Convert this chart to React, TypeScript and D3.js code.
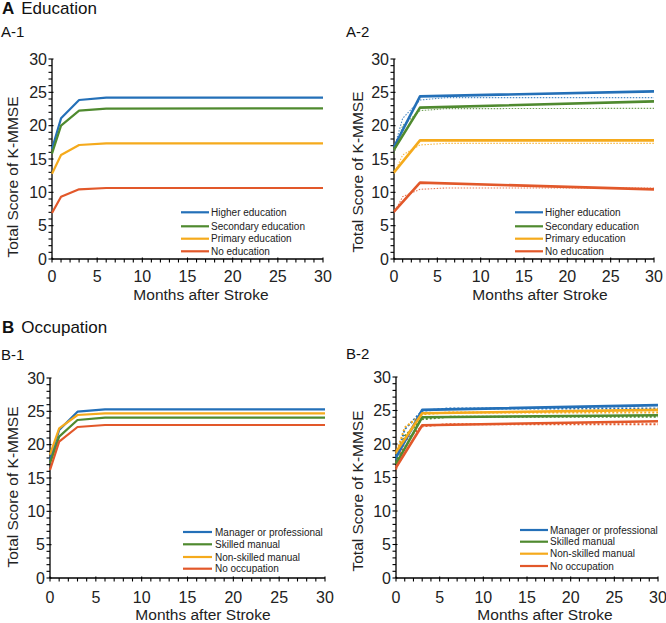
import React from "react";
import * as d3 from "d3";

const fitMonths = [0, 1, 3, 6, 30];
const obsMonths = [0, 3, 30];

const eduLabels = ["Higher education", "Secondary education", "Primary education", "No education"];
const eduFitHigher = [16.5, 21.1, 23.85, 24.2, 24.2];
const eduFitSecondary = [15.8, 20.0, 22.25, 22.55, 22.6];
const eduFitPrimary = [12.8, 15.6, 17.1, 17.35, 17.35];
const eduFitNone = [6.9, 9.35, 10.45, 10.65, 10.65];
const eduObsHigher = [16.8, 24.4, 25.15];
const eduObsSecondary = [16.4, 22.7, 23.65];
const eduObsPrimary = [13.0, 17.8, 17.8];
const eduObsNone = [7.1, 11.45, 10.45];

const occLabels = ["Manager or professional", "Skilled manual", "Non-skilled manual", "No occupation"];
const occFitManager = [17.7, 22.2, 24.95, 25.3, 25.3];
const occFitSkilled = [17.2, 21.2, 23.7, 24.05, 24.05];
const occFitNonSkilled = [18.5, 22.45, 24.45, 24.7, 24.7];
const occFitNone = [16.2, 20.45, 22.65, 22.95, 22.95];
const occObsManager = [18.0, 25.1, 25.8];
const occObsSkilled = [17.0, 24.0, 24.3];
const occObsNonSkilled = [18.8, 24.6, 25.1];
const occObsNone = [16.5, 22.8, 23.4];

const yTicks = [0, 5, 10, 15, 20, 25, 30];
const xTicks = [0, 5, 10, 15, 20, 25, 30];

const COLORS = ["#2470B8", "#4F8A2F", "#F5AA1C", "#E2582A"];
const FONT = "'Liberation Sans', Arial, Helvetica, sans-serif";

type Series = { months: number[]; values: number[] };

type PanelProps = {
  x0: number; x1: number; yTop: number; yBot: number;
  solid: Series[]; solidWidth: number;
  dotted?: Series[]; dottedWidth?: number; dottedDash?: string; dottedOpacity?: number;
  labels: string[];
  legend: { lx0: number; lx1: number; tx: number; ys: number[] };
  yTitle: { x: number; y: number };
  xTitle: { x: number; y: number };
  tickLabelY: number;
};

function Panel(p: PanelProps) {
  const x = d3.scaleLinear().domain([0, 30]).range([p.x0, p.x1]);
  const y = d3.scaleLinear().domain([0, 30]).range([p.yBot, p.yTop]);
  const line = (s: Series) =>
    d3.line<number>().x((_, i) => x(s.months[i])).y((v) => y(v))(s.values) || "";
  const minor = d3.range(0, 31, 1);
  return (
    <g>
      <line x1={p.x0} x2={p.x0} y1={p.yTop} y2={p.yBot} stroke="#000" strokeWidth={1.3} />
      <line x1={p.x0} x2={p.x1} y1={p.yBot} y2={p.yBot} stroke="#000" strokeWidth={1.3} />
      {minor.map((v) => (
        <line key={"ym" + v} x1={p.x0 - 3.5} x2={p.x0 + (v % 5 === 0 ? 1.5 : 0)} y1={y(v)} y2={y(v)} stroke="#000" strokeWidth={1.1} />
      ))}
      {minor.map((v) => (
        <line key={"xm" + v} x1={x(v)} x2={x(v)} y1={p.yBot + (v % 5 === 0 ? -1.5 : 0)} y2={p.yBot + 3.5} stroke="#000" strokeWidth={1.1} />
      ))}
      {yTicks.map((v) => (
        <text key={"yl" + v} x={p.x0 - 5} y={y(v)} dy="0.36em" textAnchor="end" fontSize={16} fontFamily={FONT} fill="#222">{v}</text>
      ))}
      {xTicks.map((v) => (
        <text key={"xl" + v} x={x(v)} y={p.tickLabelY} textAnchor="middle" fontSize={16} fontFamily={FONT} fill="#222">{v}</text>
      ))}
      <text x={p.xTitle.x} y={p.xTitle.y} textAnchor="middle" fontSize={15.5} fontFamily={FONT} fill="#222">Months after Stroke</text>
      <text transform={`translate(${p.yTitle.x},${p.yTitle.y}) rotate(-90)`} textAnchor="middle" dy="0.35em" fontSize={15.5} fontFamily={FONT} fill="#222">Total Score of K-MMSE</text>
      {p.dotted && p.dotted.map((s, i) => (
        <path key={"d" + i} d={line(s)} fill="none" stroke={COLORS[i]} strokeWidth={p.dottedWidth} strokeDasharray={p.dottedDash} opacity={p.dottedOpacity} />
      ))}
      {p.solid.map((s, i) => (
        <path key={"s" + i} d={line(s)} fill="none" stroke={COLORS[i]} strokeWidth={p.solidWidth} strokeLinejoin="round" />
      ))}
      {p.labels.map((l, i) => (
        <g key={"lg" + i}>
          <line x1={p.legend.lx0} x2={p.legend.lx1} y1={p.legend.ys[i]} y2={p.legend.ys[i]} stroke={COLORS[i]} strokeWidth={2.2} />
          <text x={p.legend.tx} y={p.legend.ys[i]} dy="0.36em" fontSize={10} fontFamily={FONT} fill="#222">{l}</text>
        </g>
      ))}
    </g>
  );
}

export default function App() {
  const eduFit = [eduFitHigher, eduFitSecondary, eduFitPrimary, eduFitNone].map((v) => ({ months: fitMonths, values: v }));
  const eduObs = [eduObsHigher, eduObsSecondary, eduObsPrimary, eduObsNone].map((v) => ({ months: obsMonths, values: v }));
  const occFit = [occFitManager, occFitSkilled, occFitNonSkilled, occFitNone].map((v) => ({ months: fitMonths, values: v }));
  const occObs = [occObsManager, occObsSkilled, occObsNonSkilled, occObsNone].map((v) => ({ months: obsMonths, values: v }));
  return (
    <svg width={666} height={623} style={{ position: "absolute", left: 0, top: 0, background: "#fff" }}>
      <rect width={666} height={623} fill="#fff" />
      <text x={2} y={14} fontSize={17} fontFamily={FONT} fill="#111"><tspan fontWeight="bold">A</tspan><tspan dx={7}>Education</tspan></text>
      <text x={1} y={37} fontSize={15} fontFamily={FONT} fill="#111">A-1</text>
      <text x={346} y={37} fontSize={15} fontFamily={FONT} fill="#111">A-2</text>
      <text x={2} y={333} fontSize={17} fontFamily={FONT} fill="#111"><tspan fontWeight="bold">B</tspan><tspan dx={7}>Occupation</tspan></text>
      <text x={1} y={360} fontSize={15} fontFamily={FONT} fill="#111">B-1</text>
      <text x={346} y={359} fontSize={15} fontFamily={FONT} fill="#111">B-2</text>

      <Panel x0={52} x1={323} yTop={59} yBot={259} solid={eduFit} solidWidth={2.2} labels={eduLabels}
        legend={{ lx0: 181, lx1: 209, tx: 211, ys: [212.3, 226.3, 238.7, 251.3] }}
        yTitle={{ x: 13, y: 177 }} xTitle={{ x: 201, y: 300 }} tickLabelY={282} />
      <Panel x0={394} x1={654} yTop={59} yBot={259} solid={eduObs} solidWidth={2.6}
        dotted={eduFit} dottedWidth={1.1} dottedDash="1.5 1.5" dottedOpacity={0.8} labels={eduLabels}
        legend={{ lx0: 515, lx1: 543, tx: 545, ys: [212.3, 226.3, 238.7, 251.3] }}
        yTitle={{ x: 358, y: 172 }} xTitle={{ x: 540, y: 300 }} tickLabelY={282} />
      <Panel x0={50} x1={325} yTop={378} yBot={578} solid={occFit} solidWidth={2.2} labels={occLabels}
        legend={{ lx0: 183, lx1: 212, tx: 215, ys: [532, 544.3, 557, 568.7] }}
        yTitle={{ x: 13, y: 487 }} xTitle={{ x: 203, y: 620 }} tickLabelY={603} />
      <Panel x0={396} x1={658} yTop={377} yBot={578} solid={occObs} solidWidth={2.6}
        dotted={occFit} dottedWidth={2} dottedDash="2 2" dottedOpacity={1} labels={occLabels}
        legend={{ lx0: 520, lx1: 548, tx: 550, ys: [530, 541.7, 553.7, 566] }}
        yTitle={{ x: 358, y: 491 }} xTitle={{ x: 545, y: 620 }} tickLabelY={603} />
    </svg>
  );
}
